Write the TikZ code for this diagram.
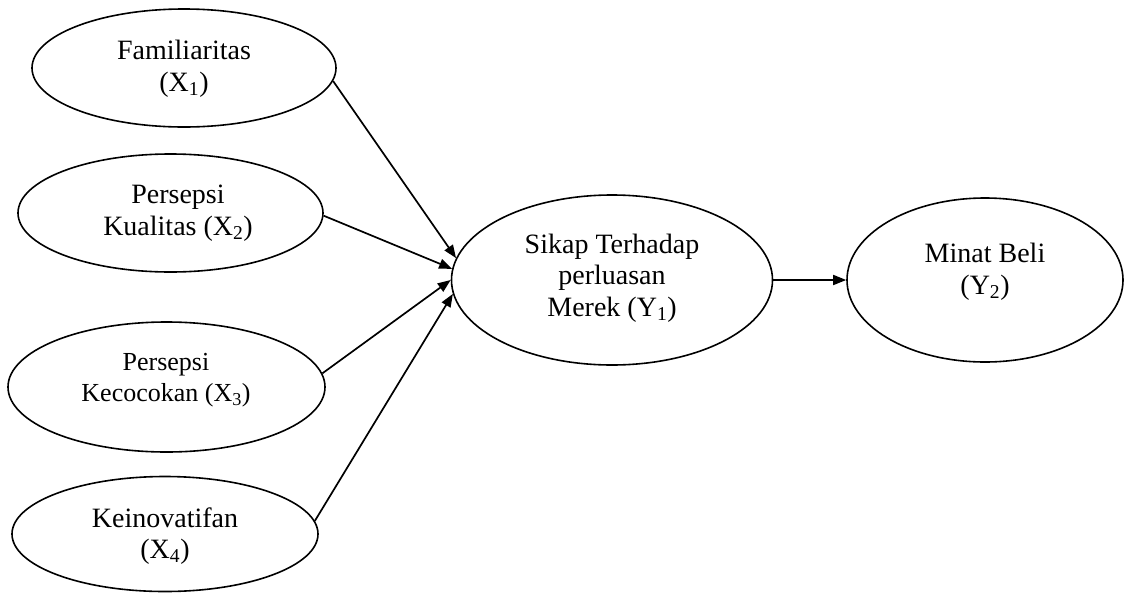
\documentclass[tikz,border=0pt]{standalone}
\usepackage{fontspec}
\setmainfont{Liberation Serif}
\usetikzlibrary{shapes.geometric,arrows.meta}
\begin{document}
\begin{tikzpicture}[x=1pt,y=-1pt,
  var/.style={draw,ellipse,line width=1.6pt,inner sep=0pt},
  lbl/.style={align=center,inner sep=0pt,font=\fontsize{28}{31.5}\selectfont},
  lblsmall/.style={align=center,inner sep=0pt,font=\fontsize{26}{31}\selectfont},
  link/.style={line width=1.7pt,-{Triangle[length=13pt,width=10pt]}}]
\useasboundingbox (0,0) rectangle (1124,592);
\node[var,minimum width=304pt,minimum height=118pt] (fam) at (184,68) {};
\node[var,minimum width=305pt,minimum height=118pt] (kual) at (170.5,213) {};
\node[var,minimum width=317pt,minimum height=130pt] (kec) at (166.5,387) {};
\node[var,minimum width=306pt,minimum height=115pt] (kein) at (165,534) {};
\node[var,minimum width=321pt,minimum height=170pt] (sik) at (612,280) {};
\node[var,minimum width=276pt,minimum height=164pt] (min) at (985,280) {};
\node[lbl] (famt) at (184,69) {Familiaritas\\(X\textsubscript{1})};
\node[lbl] (kualt) at (178,213) {Persepsi\\Kualitas (X\textsubscript{2})};
\node[lblsmall] (kect) at (166,380) {Persepsi\\Kecocokan (X\textsubscript{3})};
\node[lbl] (keint) at (165,536) {Keinovatifan\\(X\textsubscript{4})};
\node[lbl] (sikt) at (612,278) {Sikap Terhadap\\perluasan\\Merek (Y\textsubscript{1})};
\node[lbl] (mint) at (985,272) {Minat Beli\\(Y\textsubscript{2})};
\draw[link] (fam.-5.7) -- (sik.172.2);
\draw[link] (kual.-1.9) -- (sik.176.5);
\draw[link] (kec.5.4) -- (sik.180.7);
\draw[link] (kein.5.4) -- (sik.185.6);
\draw[link] (sik.east) -- (min.west);
\end{tikzpicture}
\end{document}
